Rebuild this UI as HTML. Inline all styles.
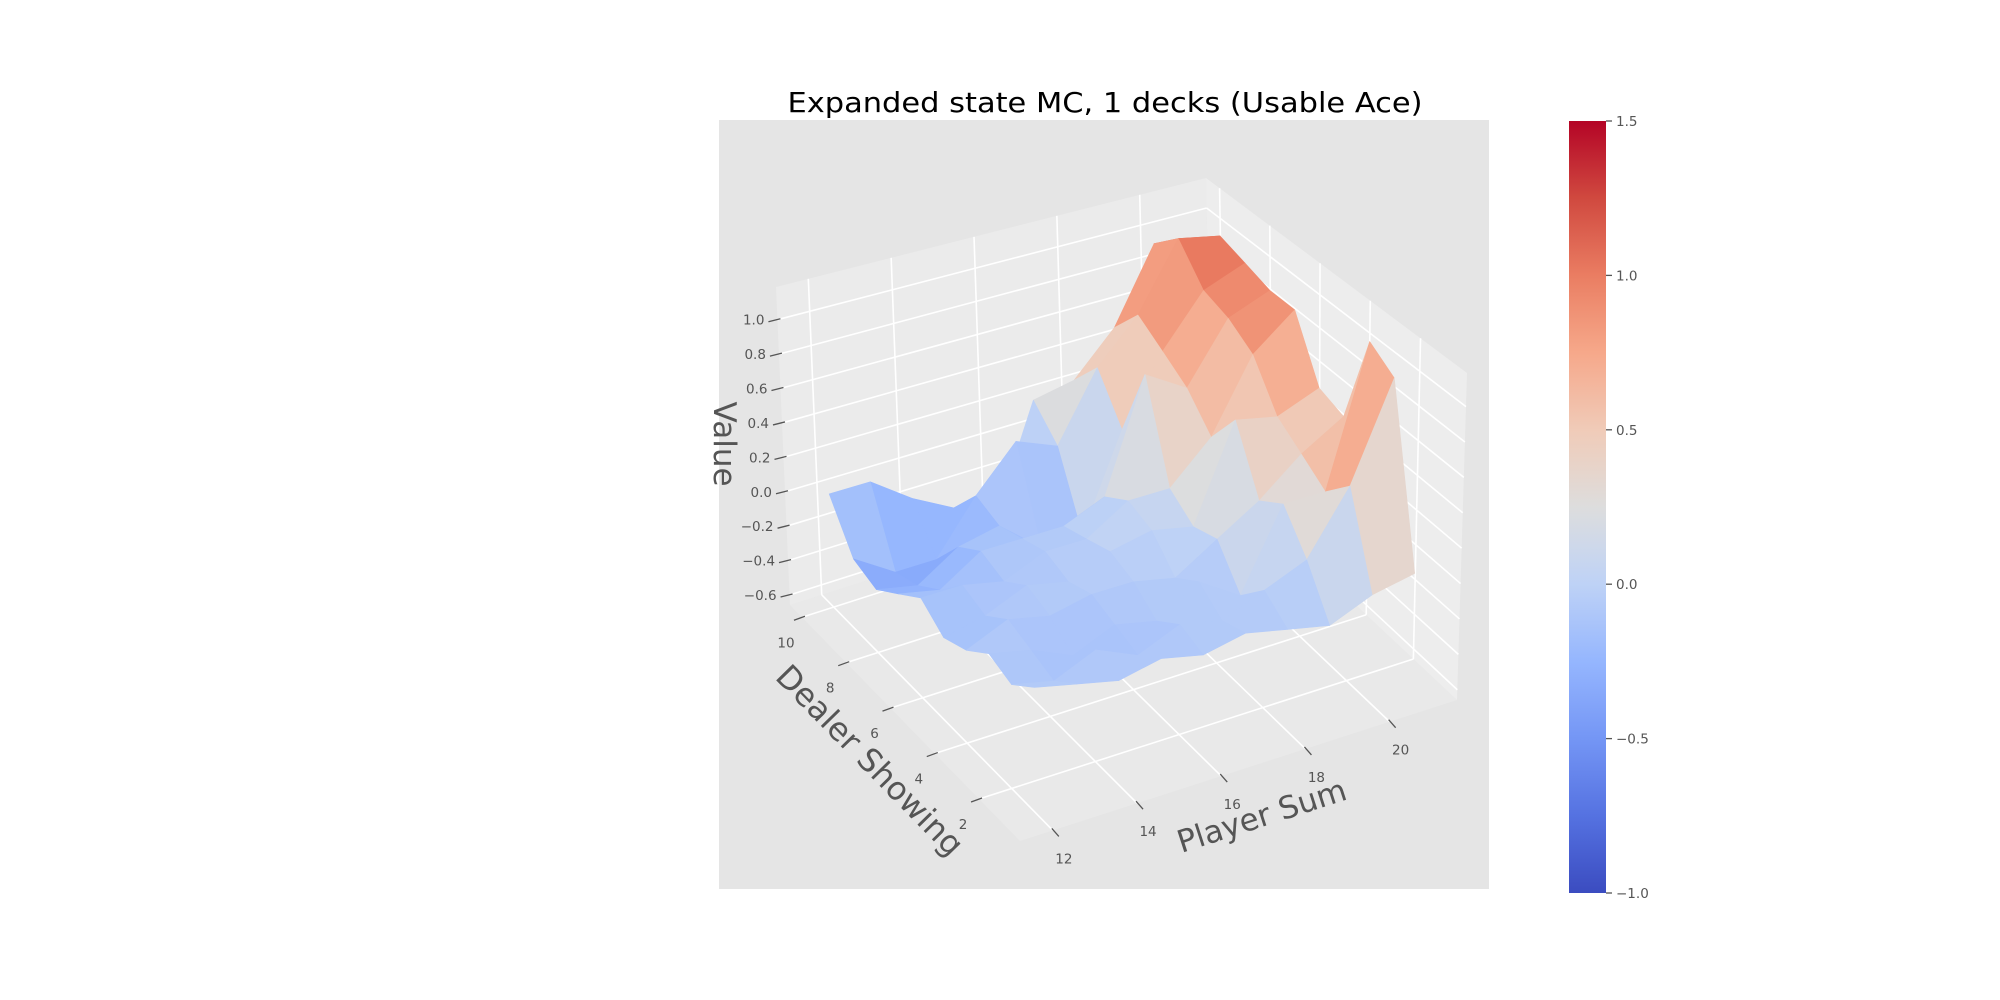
<!DOCTYPE html>
<html><head><meta charset="utf-8"><title>Expanded state MC, 1 decks (Usable Ace)</title>
<style>
html,body{margin:0;padding:0;background:#fff;}
svg{display:block;font-family:"DejaVu Sans","Liberation Sans",sans-serif;}
</style></head>
<body>
<svg id="chart" width="2000" height="1000" viewBox="0 0 2000 1000" xmlns="http://www.w3.org/2000/svg">
  <rect x="0" y="0" width="2000" height="1000" fill="#ffffff"/>
  <rect x="719" y="120" width="770" height="769" fill="#e5e5e5"/>
  <text x="1105" y="112" text-anchor="middle" font-size="28" fill="#000" textLength="635" lengthAdjust="spacingAndGlyphs">Expanded state MC, 1 decks (Usable Ace)</text>
  <g id="panes"></g>
  <g id="grid"></g>
  <g id="surface"></g>
  <g id="ticks"></g>
  <text transform="translate(714,444) rotate(90)" text-anchor="middle" font-size="31" fill="#555">Value</text>
  <text transform="translate(862,768) rotate(45.6)" text-anchor="middle" font-size="32" fill="#555">Dealer Showing</text>
  <text transform="translate(1265,826) rotate(-17.9)" text-anchor="middle" font-size="31" fill="#555">Player Sum</text>
  <defs>
    <linearGradient id="cbgrad" x1="0" y1="1" x2="0" y2="0"></linearGradient>
  </defs>
  <rect x="1569" y="121" width="37" height="772" fill="url(#cbgrad)"/>
  <g id="cbticks"></g>
</svg>
<script>
// ---- data ----
const playerSums = [12,13,14,15,16,17,18,19,20,21];
const dealerCards = [1,2,3,4,5,6,7,8,9,10];
// values[playerIndex][dealerIndex]
const values12 = [ 0.00,-0.10,-0.05,-0.15,-0.20,-0.10,-0.20,-0.30,-0.25, 0.00];
const values13 = [-0.05,-0.15,-0.10,-0.05,-0.15,-0.10,-0.25,-0.35,-0.40, 0.00];
const values14 = [-0.10,-0.05,-0.20,-0.10,-0.05,-0.15,-0.10,-0.20,-0.40,-0.17];
const values15 = [-0.05,-0.15,-0.10,-0.05,-0.10,-0.05,-0.10,-0.15,-0.10,-0.30];
const values16 = [-0.10,-0.05,-0.15,-0.05, 0.00,-0.05,-0.10,-0.35, 0.15,-0.43];
const values17 = [-0.05,-0.10, 0.00,-0.10, 0.05, 0.10, 0.00,-0.35, 0.05, 0.20];
const values18 = [-0.10, 0.00,-0.15, 0.05, 0.00, 0.10, 0.65, 0.20, 0.45, 0.25];
const values19 = [-0.15, 0.10, 0.30, 0.20, 0.55, 0.33, 0.50, 0.60, 0.70, 0.50];
const values20 = [-0.05, 0.45, 0.30, 0.40, 0.50, 0.75, 0.85, 0.90, 1.10, 0.95];
const values21 = [ 0.00, 1.00, 1.10, 0.55, 0.60, 0.95, 0.95, 1.00, 1.05, 0.85];
const valueRows = [values12,values13,values14,values15,values16,values17,values18,values19,values20,values21];
const playerTicks = [12,14,16,18,20];
const dealerTicks = [2,4,6,8,10];
const zTicks = [-0.6,-0.4,-0.2,0.0,0.2,0.4,0.6,0.8,1.0];
const colorbarTicks = [1.5,1.0,0.5,0.0,-0.5,-1.0];

// ---- projection ----
const NS="http://www.w3.org/2000/svg";
const PMIN=11.22,PMAX=21.6,DMIN=0.15,DMAX=10.54,ZMIN=-0.658,ZMAX=1.19;
const VMIN=-1,VMAX=1.5;
const FB=[1020,841],FC=[1457,700],FA=[790,605],FD=[1212,470];
const VB=[2,-352],VC=[10,-327],VA=[-14,-318],VD=[-6,-292];
function bil(a,b,c,d,u,v){
  return [a[0]*(1-u)*(1-v)+b[0]*u*(1-v)+c[0]*(1-u)*v+d[0]*u*v,
          a[1]*(1-u)*(1-v)+b[1]*u*(1-v)+c[1]*(1-u)*v+d[1]*u*v];
}
function proj(p,d,z){
  const u=(p-PMIN)/(PMAX-PMIN), v=(d-DMIN)/(DMAX-DMIN), w=(z-ZMIN)/(ZMAX-ZMIN);
  const f=bil(FB,FC,FA,FD,u,v), vv=bil(VB,VC,VA,VD,u,v);
  return [f[0]+w*vv[0], f[1]+w*vv[1]];
}
const cmapStops=[[0,59,76,192],[0.1,85,114,225],[0.2,116,150,245],[0.3,149,182,254],[0.4,190,210,246],[0.5,221,221,221],[0.6,240,203,184],[0.7,246,168,138],[0.8,234,125,98],[0.9,208,73,63],[1,180,4,38]];
function cmap(t){
  t=Math.max(0,Math.min(1,t));
  for(let i=1;i<cmapStops.length;i++){
    if(t<=cmapStops[i][0]){
      const a=cmapStops[i-1],b=cmapStops[i],f=(t-a[0])/(b[0]-a[0]);
      return `rgb(${Math.round(a[1]+f*(b[1]-a[1]))},${Math.round(a[2]+f*(b[2]-a[2]))},${Math.round(a[3]+f*(b[3]-a[3]))})`;
    }
  }
  return 'rgb(180,4,38)';
}
function pts(arr){return arr.map(q=>q[0].toFixed(1)+','+q[1].toFixed(1)).join(' ');}
function mk(tag,attrs,parent){const e=document.createElementNS(NS,tag);for(const k in attrs)e.setAttribute(k,attrs[k]);parent.appendChild(e);return e;}

// panes
const panes=document.getElementById('panes');
let e;
e=mk('polygon',{points:pts([proj(PMIN,DMIN,ZMIN),proj(PMAX,DMIN,ZMIN),proj(PMAX,DMAX,ZMIN),proj(PMIN,DMAX,ZMIN)]),fill:'#e9e9e9'},panes);


e=mk('polygon',{points:pts([proj(PMIN,DMAX,ZMIN),proj(PMAX,DMAX,ZMIN),proj(PMAX,DMAX,ZMAX),proj(PMIN,DMAX,ZMAX)]),fill:'#ebebeb'},panes);


e=mk('polygon',{points:pts([proj(PMAX,DMIN,ZMIN),proj(PMAX,DMAX,ZMIN),proj(PMAX,DMAX,ZMAX),proj(PMAX,DMIN,ZMAX)]),fill:'#ededed'},panes);



// grid
const grid=document.getElementById('grid');
function gl(a,b){const l=mk('line',{x1:a[0],y1:a[1],x2:b[0],y2:b[1],stroke:'#ffffff','stroke-width':1.6},grid);
  
  }
playerTicks.forEach(p=>{gl(proj(p,DMIN,ZMIN),proj(p,DMAX,ZMIN));gl(proj(p,DMAX,ZMIN),proj(p,DMAX,ZMAX));});
dealerTicks.forEach(d=>{gl(proj(PMIN,d,ZMIN),proj(PMAX,d,ZMIN));gl(proj(PMAX,d,ZMIN),proj(PMAX,d,ZMAX));});
zTicks.forEach(z=>{gl(proj(PMIN,DMAX,z),proj(PMAX,DMAX,z));gl(proj(PMAX,DMAX,z),proj(PMAX,DMIN,z));});

// surface
const surf=document.getElementById('surface');
const quads=[];
for(let i=0;i<playerSums.length-1;i++){
  for(let j=0;j<dealerCards.length-1;j++){
    const p0=playerSums[i],p1=playerSums[i+1],d0=dealerCards[j],d1=dealerCards[j+1];
    const z00=valueRows[i][j],z10=valueRows[i+1][j],z11=valueRows[i+1][j+1],z01=valueRows[i][j+1];
    const avg=(z00+z10+z11+z01)/4;
    const depth=proj((p0+p1)/2,(d0+d1)/2,ZMIN)[1];
    quads.push({poly:[proj(p0,d0,z00),proj(p1,d0,z10),proj(p1,d1,z11),proj(p0,d1,z01)],avg,depth,i,j});
  }
}
quads.sort((a,b)=>a.depth-b.depth);
quads.forEach(q=>{
  const c=cmap((q.avg-VMIN)/(VMAX-VMIN));
  const pg=mk('polygon',{points:pts(q.poly),fill:c,stroke:c,'stroke-width':0.6,'stroke-linejoin':'round'},surf);
  
  
});

// ticks
const tk=document.getElementById('ticks');
function tl(x1,y1,x2,y2){const l=mk('line',{x1,y1,x2,y2,stroke:'#555','stroke-width':1.3},tk);
  
  }
function tt(x,y,s,anchor){const t=mk('text',{x,y,'font-size':13.5,fill:'#555','text-anchor':anchor},tk);t.textContent=s;
  
  }
function fmt(v){return (v<0?'\u2212':'')+Math.abs(v).toFixed(1);}
zTicks.forEach(z=>{const q=proj(PMIN,DMAX,z);tl(q[0]-9,q[1]+2,q[0]+3,q[1]-1);tt(q[0]-13,q[1]+5,fmt(z),'end');});
dealerTicks.forEach(d=>{const q=proj(PMIN,d,ZMIN);tl(q[0]-8,q[1]+3,q[0]+3,q[1]-1);tt(q[0]-16,q[1]+30,String(d),'middle');});
playerTicks.forEach(p=>{const q=proj(p,DMIN,ZMIN);tl(q[0]-1,q[1]-2,q[0]+6,q[1]+6);tt(q[0]+11,q[1]+33,String(p),'middle');});

// colorbar
const grad=document.getElementById('cbgrad');
for(let k=0;k<=20;k++){const s=mk('stop',{offset:(k/20),'stop-color':cmap(k/20)},grad);}
const cbt=document.getElementById('cbticks');
const CBT=121,CBB=893;
colorbarTicks.forEach(v=>{
  const y=CBB-(v-VMIN)/(VMAX-VMIN)*(CBB-CBT);
  const l=mk('line',{x1:1606,y1:y,x2:1612,y2:y,stroke:'#555','stroke-width':1.3},cbt);
  
  
  const t=mk('text',{x:1616,y:y+5,'font-size':13.5,fill:'#555'},cbt);t.textContent=fmt(v);
  
  
});
</script>
</body></html>
